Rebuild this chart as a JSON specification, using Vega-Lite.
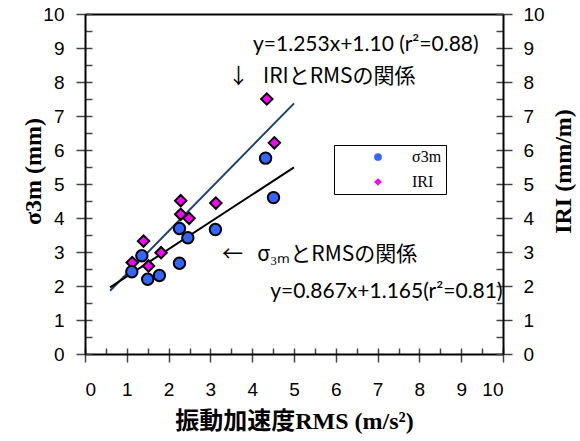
{
  "$schema": "https://vega.github.io/schema/vega-lite/v6.json",
  "width": 418,
  "height": 340,
  "autosize": "none",
  "padding": {"left": 85, "top": 14, "right": 77, "bottom": 87},
  "background": "white",
  "config": {
    "view": {"stroke": null},
    "axis": {
      "grid": false,
      "labelFont": "Liberation Sans",
      "labelFontSize": 19,
      "labelColor": "#000",
      "domainColor": "#000",
      "domainWidth": 2,
      "tickColor": "#444",
      "tickWidth": 1.5,
      "titleColor": "#000",
      "titleFont": "Liberation Serif, Noto Sans CJK JP",
      "titleFontWeight": "bold",
      "titleFontSize": 24
    }
  },
  "datasets": {
    "pts": [
      {"rms": 1.13, "value": 2.69, "series": "IRI"},
      {"rms": 1.40, "value": 3.32, "series": "IRI"},
      {"rms": 1.52, "value": 2.59, "series": "IRI"},
      {"rms": 1.82, "value": 2.98, "series": "IRI"},
      {"rms": 2.29, "value": 4.51, "series": "IRI"},
      {"rms": 2.29, "value": 4.11, "series": "IRI"},
      {"rms": 2.49, "value": 3.99, "series": "IRI"},
      {"rms": 3.13, "value": 4.44, "series": "IRI"},
      {"rms": 4.35, "value": 7.50, "series": "IRI"},
      {"rms": 4.53, "value": 6.21, "series": "IRI"},
      {"rms": 1.12, "value": 2.42, "series": "σ3m"},
      {"rms": 1.36, "value": 2.89, "series": "σ3m"},
      {"rms": 1.50, "value": 2.20, "series": "σ3m"},
      {"rms": 1.78, "value": 2.31, "series": "σ3m"},
      {"rms": 2.26, "value": 2.67, "series": "σ3m"},
      {"rms": 2.26, "value": 3.69, "series": "σ3m"},
      {"rms": 2.46, "value": 3.42, "series": "σ3m"},
      {"rms": 3.12, "value": 3.66, "series": "σ3m"},
      {"rms": 4.32, "value": 5.76, "series": "σ3m"},
      {"rms": 4.51, "value": 4.60, "series": "σ3m"}
    ],
    "fits": [
      {"series": "σ3m", "rms": 0.6, "value": 1.96},
      {"series": "σ3m", "rms": 5.0, "value": 5.49},
      {"series": "IRI", "rms": 0.6, "value": 1.86},
      {"series": "IRI", "rms": 5.0, "value": 7.37}
    ],
    "eqs": [
      {"rms": 4.02, "value": 9.09, "note": "y=1.253x+1.10 (r²=0.88)"},
      {"rms": 4.43, "value": 1.82, "note": "y=0.867x+1.165(r²=0.81)"}
    ],
    "notes": [
      {"rms": 3.42, "value": 8.15, "note": "↓\u00a0\u00a0\u00a0IRIとRMSの関係"},
      {"rms": 3.28, "value": 2.91, "note": "←\u00a0\u00a0\u00a0σ₃ₘとRMSの関係"}
    ]
  },
  "layer": [
    {
      "data": {"name": "pts"},
      "mark": {"type": "point", "opacity": 0},
      "encoding": {
        "x": {"field": "rms", "type": "quantitative", "scale": {"domain": [0, 10]},
          "axis": {"orient": "bottom", "offset": -6, "values": [0,0.5,1,1.5,2,2.5,3,3.5,4,4.5,5,5.5,6,6.5,7,7.5,8,8.5,9,9.5,10], "labels": false, "domain": false, "tickSize": 6, "title": null}},
        "y": {"field": "value", "type": "quantitative", "scale": {"domain": [0, 10]},
          "axis": {"orient": "left", "offset": -7, "values": [0,0.5,1,1.5,2,2.5,3,3.5,4,4.5,5,5.5,6,6.5,7,7.5,8,8.5,9,9.5,10], "labels": false, "domain": false, "tickSize": 7, "title": null}}
      }
    },
    {
      "data": {"name": "pts"},
      "mark": {"type": "point", "opacity": 0},
      "encoding": {
        "x": {"field": "rms", "type": "quantitative", "scale": {"domain": [0, 10]}, "axis": null},
        "y": {"field": "value", "type": "quantitative", "scale": {"domain": [0, 10]},
          "axis": {"orient": "right", "offset": -7, "values": [0,0.5,1,1.5,2,2.5,3,3.5,4,4.5,5,5.5,6,6.5,7,7.5,8,8.5,9,9.5,10], "labels": false, "domain": false, "tickSize": 7, "title": null}}
      }
    },
    {
      "data": {"name": "fits"},
      "transform": [{"filter": "datum.series === 'IRI'"}],
      "mark": {"type": "line", "color": "#1b4170", "strokeWidth": 2},
      "encoding": {
        "x": {"field": "rms", "type": "quantitative", "scale": {"domain": [0, 10]}, "axis": null},
        "y": {"field": "value", "type": "quantitative", "scale": {"domain": [0, 10]}, "axis": null}
      }
    },
    {
      "data": {"name": "fits"},
      "transform": [{"filter": "datum.series === 'σ3m'"}],
      "mark": {"type": "line", "color": "#000000", "strokeWidth": 2},
      "encoding": {
        "x": {"field": "rms", "type": "quantitative", "scale": {"domain": [0, 10]}, "axis": null},
        "y": {"field": "value", "type": "quantitative", "scale": {"domain": [0, 10]}, "axis": null}
      }
    },
    {
      "data": {"name": "pts"},
      "mark": {"type": "point", "filled": true, "opacity": 1, "fillOpacity": 1, "strokeOpacity": 1, "stroke": "black", "strokeWidth": 2, "size": 130},
      "encoding": {
        "x": {"field": "rms", "type": "quantitative", "scale": {"domain": [0, 10]},
          "axis": {"orient": "bottom", "values": [0,1,2,3,4,5,6,7,8,9,10], "tickSize": 8, "labelPadding": 18, "title": "振動加速度RMS (m/s²)", "titlePadding": 10}},
        "y": {"field": "value", "type": "quantitative", "scale": {"domain": [0, 10]},
          "axis": {"orient": "left", "values": [0,1,2,3,4,5,6,7,8,9,10], "tickSize": 9, "labelPadding": 12, "title": "σ3m (mm)", "titleAngle": -90, "titleAlign": "center", "titleBaseline": "middle", "titleX": -52, "titleY": 157}},
        "fill": {"field": "series", "type": "nominal", "scale": {"domain": ["σ3m", "IRI"], "range": ["#3366ff", "#ff00ff"]},
          "legend": {"orient": "none", "legendX": 249, "legendY": 131, "title": null, "strokeColor": "#000", "fillColor": "#fff", "padding": 4, "symbolOffset": 32, "labelOffset": 26, "rowPadding": 9, "labelFont": "Liberation Serif", "labelFontSize": 16, "labelColor": "#000", "symbolSize": 60, "symbolStrokeColor": "#000", "symbolStrokeWidth": 1.5, "labelExpr": "datum.label + '\u00a0\u00a0\u00a0\u00a0\u00a0\u00a0\u00a0\u00a0\u00a0\u00a0\u00a0\u00a0\u00a0'",
            "encode": {"symbols": {"update": {"stroke": {"value": "#000"}, "strokeWidth": {"value": 1.5}, "opacity": {"value": 1}}}}}},
        "shape": {"field": "series", "type": "nominal", "scale": {"domain": ["σ3m", "IRI"], "range": ["circle", "diamond"]},
          "legend": {"orient": "none", "legendX": 249, "legendY": 131, "title": null, "strokeColor": "#000", "fillColor": "#fff", "padding": 4, "symbolOffset": 32, "labelOffset": 26, "rowPadding": 9, "labelFont": "Liberation Serif", "labelFontSize": 16, "labelColor": "#000", "symbolSize": 60, "symbolStrokeColor": "#000", "symbolStrokeWidth": 1.5, "labelExpr": "datum.label + '\u00a0\u00a0\u00a0\u00a0\u00a0\u00a0\u00a0\u00a0\u00a0\u00a0\u00a0\u00a0\u00a0'",
            "encode": {"symbols": {"update": {"stroke": {"value": "#000"}, "strokeWidth": {"value": 1.5}, "opacity": {"value": 1}}}}}}
      }
    },
    {
      "data": {"name": "pts"},
      "mark": {"type": "point", "opacity": 0},
      "encoding": {
        "x": {"field": "rms", "type": "quantitative", "scale": {"domain": [0, 10]},
          "axis": {"orient": "top", "labels": false, "ticks": false, "title": null}},
        "y": {"field": "value", "type": "quantitative", "scale": {"domain": [0, 10]},
          "axis": {"orient": "right", "values": [0,1,2,3,4,5,6,7,8,9,10], "tickSize": 9, "labelPadding": 11, "title": "IRI (mm/m)", "titleAngle": -90, "titleAlign": "center", "titleBaseline": "middle", "titleX": 60, "titleY": 157}}
      }
    },
    {
      "data": {"name": "eqs"},
      "mark": {"type": "text", "align": "left", "baseline": "middle", "font": "Lato, Noto Sans CJK JP", "fontSize": 21, "color": "#000"},
      "encoding": {
        "x": {"field": "rms", "type": "quantitative", "scale": {"domain": [0, 10]}, "axis": null},
        "y": {"field": "value", "type": "quantitative", "scale": {"domain": [0, 10]}, "axis": null},
        "text": {"field": "note"}
      }
    },
    {
      "data": {"name": "notes"},
      "mark": {"type": "text", "align": "left", "baseline": "middle", "font": "Noto Sans CJK JP", "fontSize": 21, "color": "#000"},
      "encoding": {
        "x": {"field": "rms", "type": "quantitative", "scale": {"domain": [0, 10]}, "axis": null},
        "y": {"field": "value", "type": "quantitative", "scale": {"domain": [0, 10]}, "axis": null},
        "text": {"field": "note"}
      }
    }
  ],
  "resolve": {"axis": {"x": "independent", "y": "independent"}}
}
